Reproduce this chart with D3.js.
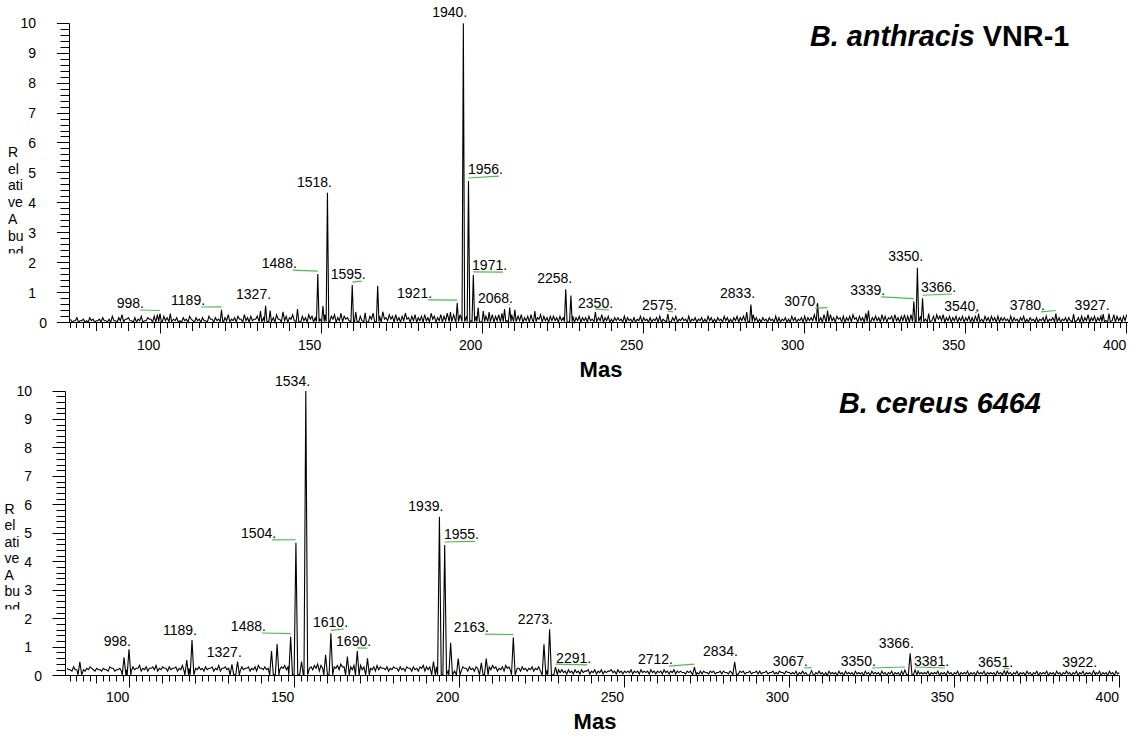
<!DOCTYPE html>
<html><head><meta charset="utf-8">
<script src="https://cdn.jsdelivr.net/npm/d3@7"></script>
<style>
body{margin:0;background:#fff}
svg{display:block}
text{font-family:"Liberation Sans",Arial,Helvetica,sans-serif}
</style>
</head><body>
<svg id="c" width="1131" height="736"></svg>
<script>
// ---------------- DATA (x in m/z ÷ 10, y in relative abundance) ----------------
// top: B. anthracis VNR-1
const topTitle = ["B. anthracis", " VNR-1"];
const topNoiseStart = 72;
// noise read at whole units (spike tops) and at half units (troughs), one digit per sample
const topNoiseHigh =
  "2131213212"+"3124135231"+"3241324524"+"3523132413"+"2314232435"+"2342534245"+
  "3643527435"+"5343543345"+"3453643546"+"4754654735"+"4534634534"+"5364354635"+
  "4534654354"+"6545647564"+"5345435434"+"4343534343"+"3424353423"+"3243232432"+
  "3234232342"+"3242323243"+"2324323434"+"3453232324"+"3232432343"+"3543545343"+
  "4345343643"+"4354345345"+"4543454645"+"4534343434"+"3432434343"+"3243234232"+
  "3234234323"+"3423435343"+"453454345";
const topNoiseLow =
  "0101001010"+"1001010210"+"0101200101"+"1010010201"+"0102010010"+"1020101201"+
  "0120201021"+"1010201201"+"0201021020"+"1202010212"+"0101201010"+"1020101201"+
  "0120102010"+"2010210201"+"0101020101"+"1010010101"+"0100101001"+"1001001010"+
  "0100100101"+"1001010010"+"0101001010"+"1010010100"+"0100101001"+"1020101020"+
  "0102010201"+"1010201010"+"0201020102"+"1010101010"+"0100101001"+"1001010010"+
  "0100101010"+"1010010101"+"010101010";
const topPeakX = [99.8,103.0,118.9,131.0,132.6,134.0,142.5,148.8,150.4,151.8,159.5,160.6,163.5,167.4,
  190.0,192.1,194.0,195.6,197.1,198.6,200.2,202.0,206.8,208.4,210.0,216.2,225.8,227.4,235.0,257.5,
  282.0,283.3,304.0,307.1,319.8,333.9,335.0,336.6,338.5,354.0,378.0,383.5,392.7,394.5];
const topPeakY = [0.3,0.3,0.42,0.38,0.56,0.4,0.45,1.62,0.55,4.34,1.25,0.35,0.32,1.23,
  0.35,0.65,10,4.73,1.59,0.5,0.38,0.35,0.45,0.5,0.42,0.38,1.11,0.9,0.35,0.28,
  0.35,0.6,0.65,0.4,0.4,0.7,1.83,0.81,0.3,0.3,0.3,0.28,0.28,0.3];
const topLabels  = ["998.","1189.","1327.","1488.","1518.","1595.","1921.","1940.","1956.","1971.","2068.",
  "2258.","2350.","2575.","2833.","3070.","3339.","3350.","3366.","3540.","3780.","3927."];
const topLabelX  = [94.8,113.8,134.3,142.3,153.2,163.7,184.3,195.2,206.3,207.6,209.4,
  227.8,240.5,260.4,284.6,304.5,325.0,336.8,347.0,354.2,374.6,394.7];
const topLabelY  = [0.485,0.585,0.785,1.82,4.53,1.45,0.82,10.21,4.96,1.75,0.65,
  1.32,0.485,0.42,0.82,0.55,0.92,2.06,1.02,0.385,0.42,0.42];
const topLeadX   = [99.8,118.9,null,148.8,null,159.5,192.1,null,195.6,197.1,208.4,
  null,235.0,257.5,null,307.1,333.9,null,336.6,354.0,378.0,null];
const topLeadY   = [0.3,0.42,null,1.62,null,1.25,0.65,null,4.73,1.59,0.5,
  null,0.35,0.28,null,0.4,0.7,null,0.81,0.3,0.3,null];

// bottom: B. cereus 6464
const botTitle = ["B. cereus 6464", ""];
const botNoiseStart = 81;
const botNoiseHigh =
  "5464545645"+"4546545645"+"6575656756"+"5656576565"+"6565657565"+"6576565675"+
  "6567567656"+"7657678765"+"7678676767"+"6756765656"+"5656565676"+"6767565656"+
  "6565656567"+"6567656565"+"5656565654"+"4343434343"+"4343343433"+"3433433433"+
  "3433433233"+"3233233233"+"2332332323"+"3232323232"+"2323223232"+"2322323223"+
  "2232322322"+"3223232232"+"2322322322"+"3223223232"+"2232232232"+"2322322322"+
  "3223223232"+"2323223232";
const botNoiseLow =
  "4342434534"+"3435343453"+"4534354345"+"3453435434"+"4345343543"+"3534534354"+
  "4353454345"+"5435453543"+"4546454354"+"5343454345"+"3435343534"+"4353435343"+
  "5343534345"+"3435345343"+"4343534332"+"2121212312"+"1212321212"+"2121221212"+
  "1212122121"+"2112121212"+"1211212121"+"1212112121"+"1011010110"+"0110101101"+
  "1010110101"+"0101101011"+"1011010101"+"0110101101"+"1010110101"+"0101011010"+
  "1011010101"+"0110101011";
const botPeakX = [84.9,98.3,99.8,117.3,118.9,131.0,132.7,143.0,144.7,148.8,150.4,152.1,153.4,159.4,161.0,
  166.0,169.0,172.1,192.1,193.9,195.5,197.3,199.6,206.6,208.1,216.3,225.6,227.3,229.1,271.2,283.4,
  306.7,335.0,336.6,338.1,365.1,392.2];
const botPeakY = [0.49,0.65,0.93,0.55,1.25,0.4,0.5,0.87,1.11,1.37,4.67,0.5,10,0.73,1.49,
  0.67,0.87,0.61,0.5,5.58,4.59,1.16,0.6,0.45,0.6,1.34,1.1,1.63,0.3,0.3,0.49,
  0.18,0.2,0.79,0.2,0.17,0.17];
const botLabels = ["998.","1189.","1327.","1488.","1504.","1534.","1610.","1690.","1939.","1955.","2163.",
  "2273.","2291.","2712.","2834.","3067.","3350.","3366.","3381.","3651.","3922."];
const botLabelX = [100.4,120.4,134.0,141.3,144.4,154.7,166.2,173.2,195.1,205.9,208.9,
  228.3,239.9,264.7,284.4,305.6,326.2,337.7,348.4,367.8,393.3];
const botLabelY = [1.05,1.43,0.67,1.57,4.84,10.18,1.71,1.04,5.78,4.79,1.53,
  1.82,0.45,0.41,0.70,0.34,0.34,0.97,0.34,0.31,0.31];
const botLeadX  = [null,null,null,148.8,150.4,null,161.0,169.0,null,195.5,216.3,
  null,229.1,271.2,null,306.7,335.0,null,338.1,365.1,null];
const botLeadY  = [null,null,null,1.37,4.67,null,1.49,0.87,null,4.59,1.34,
  null,0.3,0.3,null,0.18,0.2,null,0.2,0.17,null];

const xMajor = [100,150,200,250,300,350,400];
const yMajor = [0,1,2,3,4,5,6,7,8,9,10];
const yTitleParts = ["R","el","ati","ve","A","bu","nd"];
const xTitle = "Mas";

// ---------------- DRAWING ----------------
const svg = d3.select("#c");
const GREEN = "#4cbb4c";
const crisp = v => Math.floor(v) + 0.5;

function spectrumPoints(high, low, start, px, py, hw) {
  const pts = [];
  const near = x => px.some(p => Math.abs(p - x) < hw + 0.15);
  const val = d => 0.01 + (+d) * 0.05;
  for (let i = 0; i < high.length; i++) {
    const x = start + i;
    if (!near(x)) pts.push([x, val(high[i])]);
    const xh = x + 0.5;
    if (i < low.length && !near(xh)) pts.push([xh, val(low[i])]);
  }
  px.forEach((x, i) => { pts.push([x - hw, 0.03], [x, py[i]], [x + hw, 0.03]); });
  pts.sort((a, b) => a[0] - b[0]);
  return pts;
}

function panel(o) {
  const g = svg.append("g");
  const x = d3.scaleLinear().domain(o.xd).range(o.xr);
  const y = d3.scaleLinear().domain([0, 10]).range(o.yr);
  const pts = spectrumPoints(o.high, o.low, o.noiseStart, o.px, o.py, o.hw)
    .filter(d => d[0] >= o.xd[0] && d[0] <= o.xd[1]);

  const axes = g.append("g").attr("stroke", "#000").attr("stroke-width", 1);
  const y0 = crisp(o.yr[0]), x0 = crisp(o.xr[0]);
  // x axis line and ticks
  axes.append("line").attr("x1", x0).attr("x2", o.xr[1]).attr("y1", y0).attr("y2", y0);
  const minors = d3.range(Math.ceil(o.xd[0] / 2) * 2, o.xd[1] + 0.01, 2);
  minors.forEach(v => {
    const len = v % 50 === 0 ? o.xt[2] : (v % 10 === 0 ? o.xt[1] : o.xt[0]);
    axes.append("line").attr("x1", crisp(x(v))).attr("x2", crisp(x(v)))
      .attr("y1", y0).attr("y2", y0 + len);
  });
  g.selectAll("text.xl").data(xMajor).join("text").attr("class", "xl")
    .attr("x", d => x(d) - 12).attr("y", y0 + o.xlab).attr("text-anchor", "middle")
    .attr("font-size", 14).attr("fill", "#000").text(d => d);

  // y axis line and ticks
  axes.append("line").attr("x1", x0).attr("x2", x0).attr("y1", crisp(o.yr[1])).attr("y2", y0);
  d3.range(0, 51).forEach(i => {
    const v = i / 5, len = i % 5 === 0 ? o.yt[1] : o.yt[0];
    axes.append("line").attr("x1", x0 - len).attr("x2", x0)
      .attr("y1", crisp(y(v))).attr("y2", crisp(y(v)));
  });
  g.selectAll("text.yl").data(yMajor).join("text").attr("class", "yl")
    .attr("x", d => x0 - o.ylab + (d === 0 ? o.zeroShift : 0)).attr("y", d => y(d) + 5)
    .attr("text-anchor", "end").attr("font-size", 14).attr("fill", "#000").text(d => d);

  // spectrum trace
  g.append("path").datum(pts)
    .attr("fill", "none").attr("stroke", "#000").attr("stroke-width", 1.1)
    .attr("d", d3.line().x(d => x(d[0])).y(d => y(d[1])));

  // y title (clipped column)
  const cid = "clip" + o.id;
  svg.append("defs").append("clipPath").attr("id", cid).append("rect")
    .attr("x", 0).attr("y", o.ytTop - 20).attr("width", 40).attr("height", o.ytClip - (o.ytTop - 20));
  const yt = g.append("g").attr("clip-path", `url(#${cid})`);
  yt.selectAll("text").data(yTitleParts).join("text")
    .attr("x", o.ytX).attr("y", (d, i) => o.ytTop + i * o.ytStep)
    .attr("font-size", 14).attr("fill", "#000").text(d => d);

  // x title
  g.append("text").attr("x", o.xtX).attr("y", o.xtY).attr("text-anchor", "middle")
    .attr("font-size", 22).attr("font-weight", "bold").attr("fill", "#000").text(xTitle);

  // panel title
  const t = g.append("text").attr("x", o.tX).attr("y", o.tY)
    .attr("font-size", 28.8).attr("font-weight", "bold").attr("fill", "#000");
  t.append("tspan").attr("font-style", "italic").text(o.title[0]);
  if (o.title[1]) t.append("tspan").text(o.title[1]);

  // peak labels and green leaders
  o.labels.forEach((lab, i) => {
    const lx = x(o.lx[i]), ly = y(o.ly[i]);
    if (o.leadX[i] != null) {
      g.append("line")
        .attr("x1", lx - 4).attr("y1", ly + 2)
        .attr("x2", x(o.leadX[i])).attr("y2", y(o.leadY[i]) - 3)
        .attr("stroke", GREEN).attr("stroke-width", 1.2);
    }
    g.append("text").attr("x", lx).attr("y", ly).attr("text-anchor", "end")
      .attr("font-size", 14).attr("fill", "#000").text(lab);
  });
}

panel({
  id: "t", xd: [71.7, 400.4], xr: [69.5, 1128], yr: [322.5, 23.3],
  high: topNoiseHigh, low: topNoiseLow, noiseStart: topNoiseStart, px: topPeakX, py: topPeakY, hw: 0.4,
  xt: [5.5, 8.5, 11], xlab: 27, yt: [9, 12.6], ylab: 33.5, zeroShift: 11,
  ytX: 8, ytTop: 157, ytStep: 16.7, ytClip: 253.5,
  xtX: 601, xtY: 377, tX: 810, tY: 45.7, title: topTitle,
  labels: topLabels, lx: topLabelX, ly: topLabelY, leadX: topLeadX, leadY: topLeadY
});
panel({
  id: "b", xd: [80.55, 400], xr: [65.5, 1119.3], yr: [675.7, 391],
  high: botNoiseHigh, low: botNoiseLow, noiseStart: botNoiseStart, px: botPeakX, py: botPeakY, hw: 0.55,
  xt: [6, 8, 12], xlab: 26, yt: [9, 13], ylab: 33.5, zeroShift: 10,
  ytX: 4.5, ytTop: 513.5, ytStep: 16.5, ytClip: 609.5,
  xtX: 595, xtY: 729, tX: 839, tY: 412.7, title: botTitle,
  labels: botLabels, lx: botLabelX, ly: botLabelY, leadX: botLeadX, leadY: botLeadY
});
</script>
</body></html>
